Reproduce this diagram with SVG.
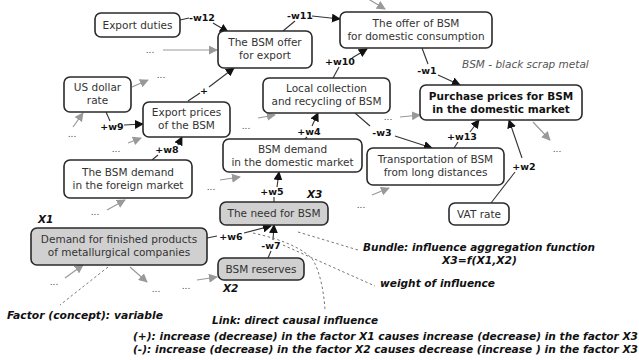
<svg xmlns="http://www.w3.org/2000/svg" width="639" height="360" viewBox="0 0 639 360">
<defs>
<style>
.n rect{fill:#fff;stroke:#2a2a2a;stroke-width:1.6}
.g rect{fill:#d0d0d0}
.n text{font-family:"DejaVu Sans",Verdana,sans-serif;font-size:10.5px;fill:#333;text-anchor:middle}
.b text{font-weight:bold;fill:#111}
.c{stroke:#333;stroke-width:1.1;fill:none}
.a{marker-end:url(#ab)}
.gr{stroke:#999;stroke-width:1.2;fill:none;marker-end:url(#ag)}
.d{stroke:#777;stroke-width:1;fill:none;stroke-dasharray:2.5 2.5}
.w{font-family:"DejaVu Sans",Verdana,sans-serif;font-size:9.5px;font-weight:bold;fill:#111;text-anchor:middle}
.dots{font-family:"DejaVu Sans",Verdana,sans-serif;font-size:9px;fill:#444;text-anchor:middle}
.lg{font-family:"DejaVu Sans",Verdana,sans-serif;font-size:10px;font-weight:bold;font-style:italic;fill:#111}
.x{font-family:"DejaVu Sans",Verdana,sans-serif;font-size:10.5px;font-weight:bold;font-style:italic;fill:#111}
</style>
<marker id="ab" viewBox="0 0 10 10" refX="9" refY="5" markerWidth="9" markerHeight="9" markerUnits="userSpaceOnUse" orient="auto"><path d="M0,0L10,5L0,10z" fill="#111"/></marker>
<marker id="ag" viewBox="0 0 10 10" refX="9" refY="5" markerWidth="9" markerHeight="9" markerUnits="userSpaceOnUse" orient="auto"><path d="M0,0L10,5L0,10z" fill="#999"/></marker>
</defs>
<rect width="639" height="360" fill="#fff"/>

<g id="connectors">
<!-- gray context arrows -->
<path class="gr" d="M163,50L217,50"/>
<path class="gr" d="M132,87L148,80"/>
<path class="gr" d="M73,127L83,113"/>
<path class="gr" d="M128,143L141,138"/>
<path class="gr" d="M258,118L275,115"/>
<path class="gr" d="M365,-3L385,9"/>
<path class="gr" d="M400,117L420,115"/>
<path class="gr" d="M533,122L550,140"/>
<path class="gr" d="M372,195L389,188"/>
<path class="gr" d="M220,180L240,177"/>
<path class="gr" d="M107,210L125,200"/>
<path class="gr" d="M65,278L83,265"/>
<path class="gr" d="M130,267L147,282"/>
<path class="gr" d="M197,280L217,277"/>
<!-- causal links -->
<path class="c" d="M180,20L189,18"/><path class="c a" d="M213,23L228,32"/>
<path class="c" d="M283,31L295,21"/><path class="c a" d="M312,16L340,19"/>
<path class="c" d="M333,78L339,67"/><path class="c a" d="M352,58L367,49"/>
<path class="c" d="M188,101L200,93"/><path class="c a" d="M209,87L234,68"/>
<path class="c" d="M106,112L110,121"/><path class="c a" d="M124,125L143,124"/>
<path class="c" d="M152,160L158,155"/><path class="c a" d="M178,145L182,137"/>
<path class="c" d="M305,139L307,137"/><path class="c a" d="M312,126L318,113"/>
<path class="c" d="M355,113L370,126"/><path class="c a" d="M395,136L432,148"/>
<path class="c" d="M454,148L458,142"/><path class="c a" d="M470,132L479,120"/>
<path class="c" d="M491,203L515,172"/><path class="c a" d="M522,158L509,120"/>
<path class="c" d="M422,48L428,64"/><path class="c a" d="M438,75L460,85"/>
<path class="c" d="M274,202L274,197"/><path class="c a" d="M277,187L279,172"/>
<path class="c" d="M207,238L217,236"/><path class="c a" d="M244,233L271,226"/>
<path class="c" d="M268,258L271,251"/><path class="c a" d="M273,240L274,225"/>
<!-- dashed annotation pointers -->
<path class="d" d="M108,267L60,305"/>
<path class="d" d="M253,233C285,240 305,250 313,260C320,272 324,292 325,310"/>
<path class="d" d="M283,245L375,286"/>
<path class="d" d="M298,232L358,250"/>
</g>

<g id="n-export-duties" class="n"><rect x="95" y="13" width="85" height="24" rx="6"/><text x="137.5" y="29">Export duties</text></g>
<g id="n-offer-export" class="n"><rect x="218" y="31" width="94" height="37" rx="6"/><text x="265" y="46">The BSM offer</text><text x="265" y="59">for export</text></g>
<g id="n-offer-domestic" class="n"><rect x="340" y="12" width="152" height="36" rx="6"/><text x="416" y="27">The offer of BSM</text><text x="416" y="40">for domestic consumption</text></g>
<g id="n-usd" class="n"><rect x="64" y="77" width="67" height="35" rx="6"/><text x="97.5" y="91">US dollar</text><text x="97.5" y="104">rate</text></g>
<g id="n-export-prices" class="n"><rect x="143" y="102" width="87" height="35" rx="6"/><text x="186.5" y="116">Export prices</text><text x="186.5" y="129">of the BSM</text></g>
<g id="n-local" class="n"><rect x="263" y="78" width="127" height="35" rx="6"/><text x="326.5" y="92">Local collection</text><text x="326.5" y="105">and recycling of BSM</text></g>
<g id="n-demand-domestic" class="n"><rect x="223" y="139" width="139" height="33" rx="6"/><text x="292.5" y="153">BSM demand</text><text x="292.5" y="166">in the domestic market</text></g>
<g id="n-demand-foreign" class="n"><rect x="64" y="160" width="128" height="38" rx="6"/><text x="128" y="176">The BSM demand</text><text x="128" y="189">in the foreign market</text></g>
<g id="n-purchase" class="n b"><rect x="420" y="85" width="162" height="35" rx="6"/><text x="501" y="100">Purchase prices for BSM</text><text x="501" y="113">in the domestic market</text></g>
<g id="n-transport" class="n"><rect x="367" y="148" width="137" height="37" rx="6"/><text x="435.5" y="163">Transportation of BSM</text><text x="435.5" y="176">from long distances</text></g>
<g id="n-vat" class="n"><rect x="449" y="203" width="60" height="22" rx="6"/><text x="479" y="218">VAT rate</text></g>
<g id="n-need" class="n g"><rect x="220" y="202" width="108" height="23" rx="6"/><text x="274" y="217">The need for BSM</text></g>
<g id="n-demand-finished" class="n g"><rect x="31" y="228" width="176" height="37" rx="6"/><text x="119" y="243">Demand for finished products</text><text x="119" y="256">of metallurgical companies</text></g>
<g id="n-reserves" class="n g"><rect x="218" y="258" width="86" height="22" rx="6"/><text x="261" y="273">BSM reserves</text></g>

<g id="labels">
<text class="w" x="202" y="21">-w12</text>
<text class="w" x="300" y="19">-w11</text>
<text class="w" x="340" y="65">+w10</text>
<text class="w" x="427" y="74">-w1</text>
<text class="w" x="204" y="94">+</text>
<text class="w" x="112" y="130">+w9</text>
<text class="w" x="167" y="153">+w8</text>
<text class="w" x="309" y="135">+w4</text>
<text class="w" x="382" y="136">-w3</text>
<text class="w" x="462" y="140">+w13</text>
<text class="w" x="524" y="170">+w2</text>
<text class="w" x="272" y="195">+w5</text>
<text class="w" x="231" y="240">+w6</text>
<text class="w" x="271" y="249">-w7</text>
<text class="x" x="307" y="198">X3</text>
<text class="x" x="38" y="223">X1</text>
<text class="x" x="223" y="292">X2</text>
<text x="462" y="68" font-family="DejaVu Sans, Verdana, sans-serif" font-size="10.5" font-style="italic" fill="#555">BSM - black scrap metal</text>
<text class="dots" x="150" y="53">...</text>
<text class="dots" x="161" y="78">...</text>
<text class="dots" x="72" y="137">...</text>
<text class="dots" x="116" y="152">...</text>
<text class="dots" x="246" y="129">...</text>
<text class="dots" x="388" y="120">...</text>
<text class="dots" x="557" y="152">...</text>
<text class="dots" x="361" y="208">...</text>
<text class="dots" x="211" y="190">...</text>
<text class="dots" x="95" y="215">...</text>
<text class="dots" x="54" y="285">...</text>
<text class="dots" x="156" y="292">...</text>
<text class="dots" x="186" y="289">...</text>
<text class="lg" x="7" y="319" textLength="156" lengthAdjust="spacingAndGlyphs">Factor (concept): variable</text>
<text class="lg" x="212" y="324" textLength="166" lengthAdjust="spacingAndGlyphs">Link: direct causal influence</text>
<text class="lg" x="363" y="251" textLength="232" lengthAdjust="spacingAndGlyphs">Bundle: influence aggregation function</text>
<text class="lg" x="442" y="264" textLength="75" lengthAdjust="spacingAndGlyphs">X3=f(X1,X2)</text>
<text class="lg" x="380" y="287" textLength="115" lengthAdjust="spacingAndGlyphs">weight of influence</text>
<text class="lg" x="133" y="340" textLength="505" lengthAdjust="spacingAndGlyphs">(+): increase (decrease) in the factor X1 causes increase (decrease) in the factor X3</text>
<text class="lg" x="133" y="353" textLength="505" lengthAdjust="spacingAndGlyphs">(-): increase (decrease) in the factor X2 causes decrease (increase ) in the factor X3</text>
</g>
</svg>
